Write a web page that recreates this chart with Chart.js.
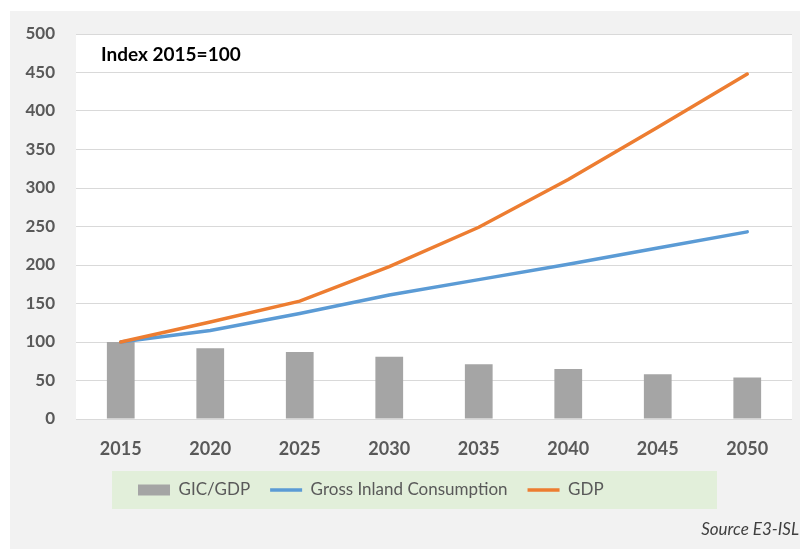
<!DOCTYPE html>
<html>
<head>
<meta charset="utf-8">
<script src="https://cdn.jsdelivr.net/npm/chart.js@4.4.1/dist/chart.umd.min.js"></script>
<style>
  html, body { margin: 0; padding: 0; background: #ffffff; }
  #frame { position: absolute; left: 10px; top: 11px; width: 790px; height: 538px; background: #f2f2f2; }
  #source { position: absolute; right: 1px; top: 518px; font: italic 17px Lato, "Open Sans", sans-serif; color: #404040; }
</style>
</head>
<body>
<div id="frame"><canvas id="chart" width="790" height="538"></canvas></div>
<div id="source">Source E3-ISL</div>
<script>
// data
const years = ['2015', '2020', '2025', '2030', '2035', '2040', '2045', '2050'];
const gicPerGdp = [100, 92, 87, 81, 71, 65, 58, 54];
const grossInland = [100, 115, 137, 161, 181, 201, 222, 243];
const gdp = [100, 126, 153, 198, 249, 311, 379, 448];
const yTicks = { min: 0, max: 500, step: 50 };

const fontFamily = 'Lato, "Open Sans", sans-serif';

//Backdrop + note plugin
const chartBackdrop = {
  id: 'chartBackdrop',
  beforeDraw(chart) {
    const { ctx, chartArea: a, legend } = chart;
    ctx.save();
    ctx.fillStyle = '#ffffff';
    ctx.fillRect(a.left, a.top, a.right - a.left, a.bottom - a.top);
    // green panel behind the legend
    ctx.fillStyle = '#e2efda';
    ctx.fillRect(a.left + 36, a.bottom + 52, 605, 38);
    ctx.restore();
    // legend entries start near the left of the panel
    legend.left = a.left + 62 - legend.options.labels.padding;
  },
  afterDraw(chart) {
    const { ctx, chartArea: a } = chart;
    ctx.save();
    ctx.textBaseline = 'middle';
    ctx.fillStyle = '#000000';
    ctx.font = 'bold 19px ' + fontFamily;
    ctx.textAlign = 'left';
    ctx.fillText('Index 2015=100', a.left + 25, a.top + 21);
    ctx.restore();
  }
};

const chart = new Chart(document.getElementById('chart'), {
  type: 'bar',
  data: {
    labels: years,
    datasets: [
      {
        label: 'GIC/GDP',
        data: gicPerGdp,
        backgroundColor: '#a5a5a5',
        barPercentage: 0.31,
        categoryPercentage: 1,
        order: 2
      },
      {
        type: 'line',
        label: 'Gross Inland Consumption',
        data: grossInland,
        borderColor: '#5b9bd5',
        backgroundColor: '#5b9bd5',
        borderWidth: 3.5,
        borderCapStyle: 'round',
        pointRadius: 0,
        tension: 0,
        order: 1
      },
      {
        type: 'line',
        label: 'GDP',
        data: gdp,
        borderColor: '#ed7d31',
        backgroundColor: '#ed7d31',
        borderWidth: 3.5,
        borderCapStyle: 'round',
        pointRadius: 0,
        tension: 0,
        order: 0
      }
    ]
  },
  options: {
    responsive: false,
    animation: false,
    layout: { padding: { left: 0, right: 8, top: 23, bottom: 40.5 } },
    scales: {
      x: {
        offset: true,
        grid: { display: false, drawTicks: false },
        border: { display: false },
        ticks: { color: '#595959', font: { family: fontFamily, size: 18, weight: 'bold' }, padding: 19, maxRotation: 0 },
        afterFit(scale) { scale.height = 42.5; }
      },
      y: {
        min: yTicks.min,
        max: yTicks.max,
        grid: { color: '#d9d9d9', lineWidth: 1, drawTicks: false },
        border: { display: false },
        ticks: { stepSize: yTicks.step, color: '#595959', font: { family: fontFamily, size: 17, weight: 'bold' }, padding: 21 },
        afterFit(scale) {
          scale.width = 66;
          scale.paddingTop = 0;
          scale.paddingBottom = 0;
        }
      }
    },
    plugins: {
      tooltip: { enabled: false },
      legend: {
        position: 'bottom',
        align: 'start',
        labels: {
          usePointStyle: true,
          pointStyleWidth: 32,
          boxHeight: 11,
          padding: 20,
          color: '#595959',
          font: { family: fontFamily, size: 17 },
          sort: (a, b) => a.datasetIndex - b.datasetIndex,
          generateLabels(c) {
            const items = Chart.defaults.plugins.legend.labels.generateLabels(c);
            items.forEach(it => {
              const ds = c.data.datasets[it.datasetIndex];
              it.pointStyle = ds.type === 'line' ? 'line' : 'rect';
              if (ds.type === 'line') it.lineWidth = 3.5;
            });
            return items;
          }
        }
      }
    }
  },
  plugins: [chartBackdrop]
});
</script>
</body>
</html>
